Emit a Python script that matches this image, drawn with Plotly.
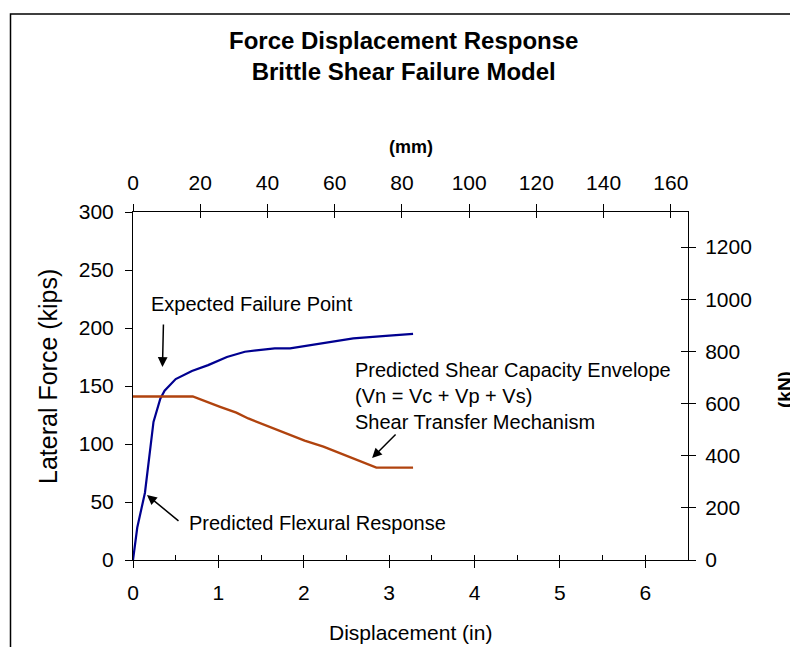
import plotly.graph_objects as go

# ---------------- data (inches / kips) ----------------
flex_disp_in = [0, 0.05, 0.14, 0.24, 0.32, 0.37, 0.50, 0.69, 0.88, 1.10, 1.31, 1.50, 1.66, 1.84, 2.19, 2.58, 3.00, 3.28]
flex_force_kips = [0, 28, 58, 119, 139, 146, 156, 163, 168, 175, 179.5, 181, 182.5, 182.5, 186.8, 191, 193.5, 195]

shear_disp_in = [0, 0.70, 1.02, 1.21, 1.35, 2.01, 2.23, 2.85, 3.28]
shear_force_kips = [141, 141, 132, 127, 122, 103, 97.7, 79.6, 79.6]

x_ticks_in = [0, 1, 2, 3, 4, 5, 6]
y_ticks_kips = [0, 50, 100, 150, 200, 250, 300]
x_ticks_mm = [0, 20, 40, 60, 80, 100, 120, 140, 160]
y_ticks_kn = [0, 200, 400, 600, 800, 1000, 1200]

IN_TO_MM = 25.4
KIP_TO_KN = 4.44822
X_MAX_IN = 6.5
Y_MAX_KIPS = 300

FONT = "Liberation Sans, Arial, sans-serif"
BLUE = "#000090"
RUST = "#B0430E"

# plot area in reference-picture pixels; the page body adds an 8 px offset
OFF = 8
L, R, T, B = 133, 688, 212, 560
W, H = 798 - OFF, 655 - 2 * OFF


def px(xp):
    return (xp - L) / (R - L)


def py(yp):
    return (B - yp) / (B - T)


fig = go.Figure()

fig.add_trace(go.Scatter(x=flex_disp_in, y=flex_force_kips, mode="lines",
                         line=dict(color=BLUE, width=2.2), hoverinfo="skip",
                         showlegend=False))
fig.add_trace(go.Scatter(x=shear_disp_in, y=shear_force_kips, mode="lines",
                         line=dict(color=RUST, width=2.4), hoverinfo="skip",
                         showlegend=False))
# same curve in SI units to bind the secondary (mm / kN) axes
fig.add_trace(go.Scatter(x=[v * IN_TO_MM for v in flex_disp_in],
                         y=[v * KIP_TO_KN for v in flex_force_kips],
                         xaxis="x2", yaxis="y2", mode="lines",
                         line=dict(color="rgba(0,0,0,0)", width=0),
                         hoverinfo="skip", showlegend=False))
# empty traces for the inner half of the crossing tick marks
for xa, ya in [("x3", "y"), ("x4", "y"), ("x", "y3")]:
    fig.add_trace(go.Scatter(x=[None], y=[None], xaxis=xa, yaxis=ya,
                             hoverinfo="skip", showlegend=False))

tickfont = dict(family=FONT, size=21, color="black")

fig.update_layout(
    width=W, height=H,
    margin=dict(l=L - OFF, r=W - (R - OFF), t=T - OFF, b=H - (B - OFF)),
    paper_bgcolor="white", plot_bgcolor="white",
    font=dict(family=FONT, color="black"),
    xaxis=dict(range=[0, X_MAX_IN], tickvals=x_ticks_in, ticks="outside",
               ticklen=7, tickwidth=1, tickcolor="black", showline=True,
               linecolor="black", linewidth=1, showgrid=False, zeroline=False,
               tickfont=tickfont, ticklabelstandoff=7, fixedrange=True),
    yaxis=dict(range=[0, Y_MAX_KIPS], tickvals=y_ticks_kips, ticks="outside",
               ticklen=7, tickwidth=1, tickcolor="black", showline=True,
               linecolor="black", linewidth=1, showgrid=False, zeroline=False,
               tickfont=tickfont, ticklabelstandoff=7, fixedrange=True),
    xaxis2=dict(range=[0, X_MAX_IN * IN_TO_MM], tickvals=x_ticks_mm,
                overlaying="x", side="top", anchor="y", ticks="outside",
                ticklen=7, tickwidth=1, tickcolor="black", showline=True,
                linecolor="black", linewidth=1, showgrid=False, zeroline=False,
                tickfont=tickfont, ticklabelstandoff=6, fixedrange=True),
    yaxis2=dict(range=[0, Y_MAX_KIPS * KIP_TO_KN], tickvals=y_ticks_kn,
                overlaying="y", side="right", anchor="x", ticks="outside",
                ticklen=7, tickwidth=1, tickcolor="black", showline=True,
                linecolor="black", linewidth=1, showgrid=False, zeroline=False,
                tickfont=tickfont, ticklabelstandoff=5, fixedrange=True),
    xaxis3=dict(range=[0, X_MAX_IN], dtick=0.5, tick0=0, overlaying="x",
                side="bottom", anchor="y", ticks="inside", ticklen=5,
                tickwidth=1, tickcolor="black", showticklabels=False,
                showline=False, showgrid=False, zeroline=False, fixedrange=True),
    xaxis4=dict(range=[0, X_MAX_IN * IN_TO_MM], tickvals=x_ticks_mm,
                overlaying="x", side="top", anchor="y", ticks="inside",
                ticklen=6, tickwidth=1, tickcolor="black", showticklabels=False,
                showline=False, showgrid=False, zeroline=False, fixedrange=True),
    yaxis3=dict(range=[0, Y_MAX_KIPS * KIP_TO_KN], tickvals=y_ticks_kn,
                overlaying="y", side="right", anchor="x", ticks="inside",
                ticklen=7, tickwidth=1, tickcolor="black", showticklabels=False,
                showline=False, showgrid=False, zeroline=False, fixedrange=True),
)

# outer chart border (right and bottom edges run past the picture)
fig.add_shape(type="rect", xref="paper", yref="paper",
              x0=px(10.5), x1=px(810), y0=py(670), y1=py(14),
              line=dict(color="black", width=1.5), fillcolor="rgba(0,0,0,0)",
              layer="below")

ann = []
# title
ann.append(dict(xref="paper", yref="paper", x=px(403), y=py(56.5),
                text="<b>Force Displacement Response<br>Brittle Shear Failure Model</b>",
                showarrow=False, font=dict(family=FONT, size=24, color="black"),
                xanchor="center", yanchor="middle"))
# axis titles
ann.append(dict(xref="paper", yref="paper", x=px(410), y=py(632),
                text="Displacement (in)", showarrow=False,
                font=dict(family=FONT, size=21), xanchor="center", yanchor="middle"))
ann.append(dict(xref="paper", yref="paper", x=px(48), y=py(377),
                text="Lateral Force (kips)", showarrow=False, textangle=-90,
                font=dict(family=FONT, size=25), xanchor="center", yanchor="middle"))
ann.append(dict(xref="paper", yref="paper", x=px(411), y=py(147),
                text="<b>(mm)</b>", showarrow=False,
                font=dict(family=FONT, size=18), xanchor="center", yanchor="middle"))
ann.append(dict(xref="paper", yref="paper", x=px(784), y=py(390),
                text="<b>(kN)</b>", showarrow=False, textangle=-90,
                font=dict(family=FONT, size=19), xanchor="center", yanchor="middle"))

# callouts
afont = dict(family=FONT, size=20, color="black")
ann.append(dict(x=0.187, y=220.7, xref="x", yref="y", text="Expected Failure Point",
                showarrow=False, xanchor="left", yanchor="middle", font=afont))
ann.append(dict(x=0.632, y=31.9, xref="x", yref="y", text="Predicted Flexural Response",
                showarrow=False, xanchor="left", yanchor="middle", font=afont))
ann.append(dict(x=2.576, y=141.4, xref="x", yref="y",
                text="Predicted Shear Capacity Envelope<br>(Vn = Vc + Vp + Vs)<br>Shear Transfer Mechanism",
                showarrow=False, xanchor="left", yanchor="middle", align="left", font=afont))

arrow = dict(showarrow=True, arrowhead=2, arrowsize=1.3, arrowwidth=1.5,
             arrowcolor="black", text="", xref="x", yref="y")
ann.append(dict(x=0.345, y=166.4, ax=1, ay=-44, **arrow))
ann.append(dict(x=0.164, y=56, ax=33, ay=27, **arrow))
ann.append(dict(x=2.80, y=87.9, ax=25, ay=-25, **arrow))

fig.update_layout(annotations=ann)

fig.write_html("out.html")
